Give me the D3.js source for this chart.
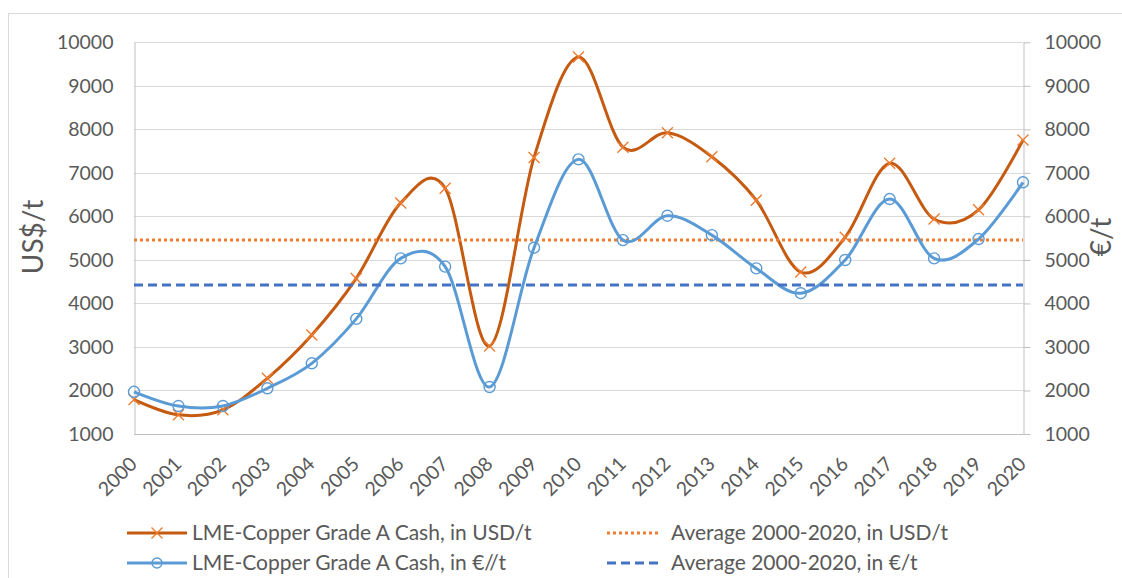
<!DOCTYPE html>
<html>
<head>
<meta charset="utf-8">
<script src="https://cdn.jsdelivr.net/npm/d3@7"></script>
<style>
  body { margin: 0; background: #fff; }
  svg { display: block; font-family: Lato, "Open Sans", sans-serif; }
</style>
</head>
<body>
<div id="chart"></div>
<script>
// ── Data ──────────────────────────────────────────────────────────────
const years = ['2000', '2001', '2002', '2003', '2004', '2005', '2006', '2007', '2008', '2009', '2010',
               '2011', '2012', '2013', '2014', '2015', '2016', '2017', '2018', '2019', '2020'];
const usdValues = [1790, 1440, 1555, 2280, 3275, 4575, 6310, 6645, 3020, 7355, 9660,
                   7590, 7920, 7370, 6370, 4720, 5520, 7220, 5940, 6150, 7755];
const eurValues = [1970, 1643, 1643, 2050, 2624, 3645, 5035, 4845, 2080, 5280, 7310,
                   5455, 6015, 5570, 4805, 4235, 4998, 6398, 5035, 5480, 6783];
const avgUsd = 5457;
const avgEur = 4423;
const yTicks = [1000, 2000, 3000, 4000, 5000, 6000, 7000, 8000, 9000, 10000];

const legendItems = [
  { label: 'LME-Copper Grade A Cash, in USD/t', type: 'usd' },
  { label: 'Average 2000-2020, in USD/t',        type: 'avgUsd' },
  { label: 'LME-Copper Grade A Cash, in €//t',  type: 'eur' },
  { label: 'Average 2000-2020, in €/t',          type: 'avgEur' },
];

// ── Layout / style ─────────────────────────────────────────────────────
const W = 1122, H = 578;
const plot = { left: 134, right: 1023, top: 42.3, bottom: 434 };
const TEXT = '#595959';
const GRID = '#D9D9D9';
const AXIS = '#BFBFBF';
const ORANGE_LINE = '#C55A11';
const ORANGE = '#ED7D31';
const BLUE = '#5B9BD5';
const BLUE_DARK = '#4472C4';

const svg = d3.select('#chart').append('svg')
  .attr('width', W).attr('height', H);

// chart-area border
svg.append('rect')
  .attr('x', 8.5).attr('y', 13.5)
  .attr('width', 1300).attr('height', 800)
  .attr('fill', 'none').attr('stroke', GRID);

const x = d3.scalePoint().domain(years).range([plot.left, plot.right]);
const y = d3.scaleLinear().domain([1000, 10000]).range([plot.bottom, plot.top]);

// ── Gridlines ───────────────────────────────────────────────────────────
svg.append('g')
  .selectAll('line')
  .data(yTicks.slice(1))
  .join('line')
  .attr('x1', plot.left).attr('x2', plot.right)
  .attr('y1', d => Math.round(y(d)) + 0.5).attr('y2', d => Math.round(y(d)) + 0.5)
  .attr('stroke', GRID).attr('stroke-width', 1);

// ── Left axis ───────────────────────────────────────────────────────────
const yLeft = svg.append('g')
  .attr('transform', `translate(${plot.left + 0.5},0)`)
  .call(d3.axisLeft(y).tickValues(yTicks).tickSize(0).tickPadding(21).tickFormat(d3.format('d')));
yLeft.select('.domain').attr('stroke', AXIS);
yLeft.selectAll('text').attr('fill', TEXT).attr('font-size', 19.5).attr('font-family', 'Lato');

// ── Right axis ──────────────────────────────────────────────────────────
const yRight = svg.append('g')
  .attr('transform', `translate(${plot.right + 0.5},0)`)
  .call(d3.axisRight(y).tickValues(yTicks).tickSizeInner(7).tickSizeOuter(0).tickPadding(14).tickFormat(d3.format('d')));
yRight.select('.domain').attr('stroke', AXIS);
yRight.selectAll('.tick line').attr('stroke', AXIS);
yRight.selectAll('text').attr('fill', TEXT).attr('font-size', 19.5).attr('font-family', 'Lato');

// ── Bottom axis ─────────────────────────────────────────────────────────
const xAxis = svg.append('g')
  .attr('transform', `translate(0,${Math.round(plot.bottom) + 0.5})`)
  .call(d3.axisBottom(x).tickSize(0));
xAxis.select('.domain').attr('stroke', AXIS).attr('d', `M${plot.left},0H${plot.right + 0.5}`);
xAxis.selectAll('text')
  .attr('fill', TEXT).attr('font-size', 19.5).attr('font-family', 'Lato')
  .attr('x', 0).attr('y', 0).attr('dy', '0.35em')
  .attr('text-anchor', 'end')
  .attr('transform', 'translate(-1,26) rotate(-45)');

// ── Axis titles ─────────────────────────────────────────────────────────
svg.append('text')
  .attr('transform', 'translate(33,237) rotate(-90)')
  .attr('text-anchor', 'middle').attr('dy', '0.35em')
  .attr('font-size', 28).attr('fill', TEXT)
  .text('US$/t');
svg.append('text')
  .attr('transform', 'translate(1101,237) rotate(-90)')
  .attr('text-anchor', 'middle').attr('dy', '0.35em')
  .attr('font-size', 28).attr('fill', TEXT)
  .text('€/t');

// ── Series ──────────────────────────────────────────────────────────────
const line = d3.line()
  .x((d, i) => x(years[i]))
  .y(d => y(d))
  .curve(d3.curveCardinal.tension(0));

function xMark(g, cx, cy, s) {
  g.append('path')
    .attr('d', `M${cx - s},${cy - s}L${cx + s},${cy + s}M${cx - s},${cy + s}L${cx + s},${cy - s}`)
    .attr('stroke', ORANGE).attr('stroke-width', 1.4).attr('fill', 'none');
}

// USD line
svg.append('path')
  .attr('d', line(usdValues))
  .attr('fill', 'none').attr('stroke', ORANGE_LINE).attr('stroke-width', 3);
const usdMarks = svg.append('g');
usdValues.forEach((v, i) => xMark(usdMarks, x(years[i]), y(v), 5.5));

// USD average
svg.append('line')
  .attr('x1', plot.left).attr('x2', plot.right)
  .attr('y1', y(avgUsd)).attr('y2', y(avgUsd))
  .attr('stroke', ORANGE).attr('stroke-width', 3).attr('stroke-dasharray', '3,3');

// EUR line
svg.append('path')
  .attr('d', line(eurValues))
  .attr('fill', 'none').attr('stroke', BLUE).attr('stroke-width', 3);
svg.append('g')
  .selectAll('circle')
  .data(eurValues)
  .join('circle')
  .attr('cx', (d, i) => x(years[i]))
  .attr('cy', d => y(d))
  .attr('r', 5.5)
  .attr('fill', 'none').attr('stroke', BLUE).attr('stroke-width', 1.4);

// EUR average
svg.append('line')
  .attr('x1', plot.left).attr('x2', plot.right)
  .attr('y1', y(avgEur)).attr('y2', y(avgEur))
  .attr('stroke', BLUE_DARK).attr('stroke-width', 3).attr('stroke-dasharray', '9,5');

// ── Legend ──────────────────────────────────────────────────────────────
const legCols = [127, 607];
const legRows = [533, 563];
const legLineW = 57;

legendItems.forEach((item, k) => {
  const lx = legCols[k % 2];
  const ly = legRows[Math.floor(k / 2)];
  const g = svg.append('g');
  if (item.type === 'usd') {
    g.append('line').attr('x1', lx).attr('x2', lx + legLineW + 3).attr('y1', ly).attr('y2', ly)
      .attr('stroke', ORANGE_LINE).attr('stroke-width', 3);
    xMark(g, lx + 30, ly, 5.5);
  } else if (item.type === 'eur') {
    g.append('line').attr('x1', lx).attr('x2', lx + legLineW + 3).attr('y1', ly).attr('y2', ly)
      .attr('stroke', BLUE).attr('stroke-width', 3);
    g.append('circle').attr('cx', lx + 30).attr('cy', ly).attr('r', 5)
      .attr('fill', 'none').attr('stroke', BLUE).attr('stroke-width', 1.4);
  } else if (item.type === 'avgUsd') {
    g.append('line').attr('x1', lx).attr('x2', lx + 54).attr('y1', ly).attr('y2', ly)
      .attr('stroke', ORANGE).attr('stroke-width', 3).attr('stroke-dasharray', '3,3');
  } else {
    g.append('line').attr('x1', lx).attr('x2', lx + 54).attr('y1', ly).attr('y2', ly)
      .attr('stroke', BLUE_DARK).attr('stroke-width', 3).attr('stroke-dasharray', '9,5');
  }
  g.append('text')
    .attr('x', item.type === 'usd' || item.type === 'eur' ? lx + 65 : lx + 64)
    .attr('y', ly).attr('dy', '0.35em')
    .attr('font-size', 21).attr('fill', TEXT)
    .text(item.label);
});
</script>
</body>
</html>
